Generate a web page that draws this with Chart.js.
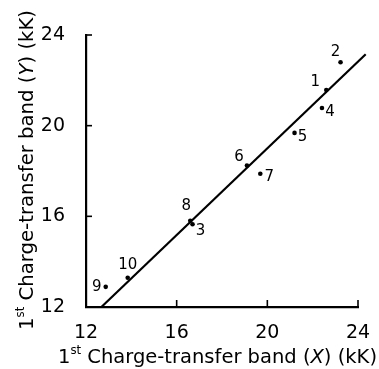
<!DOCTYPE html>
<html><head><meta charset="utf-8">
<script src="https://cdn.jsdelivr.net/npm/chart.js@4"></script>
<style>html,body{margin:0;padding:0;background:#fff}#wrap{width:379px;height:369px}</style>
</head><body><div id="wrap"><canvas id="c" width="379" height="369"></canvas></div>
<script>
// ---- data ----
const compoundLabels = ['1','2','3','4','5','6','7','8','9','10'];
const chargeTransferX = [22.6, 23.23, 16.7, 22.41, 21.2, 19.1, 19.69, 16.6, 12.87, 13.84];
const chargeTransferY = [21.57, 22.8, 15.65, 20.78, 19.68, 18.24, 17.88, 15.8, 12.89, 13.29];
const fitLineX = [12.68, 24.34];
const fitLineY = [12, 23.15];
const xTickValues = [12, 16, 20, 24];
const yTickValues = [12, 16, 20, 24];
const xTitleText = ['1', 'st', ' Charge-transfer band (', 'X', ') (kK)'];
const yTitleText = ['1', 'st', ' Charge-transfer band (', 'Y', ') (kK)'];

// ---- styling (not data) ----
const labelOffsets = [[-11,-8],[-5,-10],[8,7],[8,4],[8,4],[-8,-8],[9,3],[-4,-15],[-9,0],[0,-13]];
const FONT = '"DejaVu Sans", sans-serif';

const scatterPts = chargeTransferX.map((x, i) => ({x, y: chargeTransferY[i]}));
const linePts = fitLineX.map((x, i) => ({x, y: fitLineY[i]}));

function drawRich(ctx, parts, x0, y0, length, rotate) {
  const styles = [
    {size:20, rise:0, italic:false},
    {size:12, rise:9, italic:false},
    {size:20, rise:0, italic:false},
    {size:20, rise:0, italic:true},
    {size:20, rise:0, italic:false}
  ];
  let total = 0;
  const widths = parts.map((t, i) => {
    const s = styles[i];
    ctx.font = (s.italic ? 'italic ' : '') + s.size + 'px ' + FONT;
    const w = ctx.measureText(t).width;
    total += w;
    return w;
  });
  ctx.save();
  ctx.translate(x0, y0);
  if (rotate) ctx.rotate(-Math.PI / 2);
  ctx.scale(length / total, 1);
  ctx.fillStyle = '#000';
  ctx.textBaseline = 'alphabetic';
  ctx.textAlign = 'left';
  let cx = 0;
  parts.forEach((t, i) => {
    const s = styles[i];
    ctx.font = (s.italic ? 'italic ' : '') + s.size + 'px ' + FONT;
    ctx.fillText(t, cx, -s.rise);
    cx += widths[i];
  });
  ctx.restore();
}

const decor = {
  id: 'decor',
  afterDraw(chart) {
    const ctx = chart.ctx;
    const xs = chart.scales.x, ys = chart.scales.y;
    const a = chart.chartArea;
    ctx.save();
    ctx.strokeStyle = '#000';
    ctx.lineWidth = 1.6;
    yTickValues.forEach(v => {
      if (v === ys.min) return;
      const py = ys.getPixelForValue(v);
      ctx.beginPath(); ctx.moveTo(a.left, py); ctx.lineTo(a.left + 6, py); ctx.stroke();
    });
    xTickValues.forEach(v => {
      if (v === xs.min) return;
      const px = xs.getPixelForValue(v);
      ctx.beginPath(); ctx.moveTo(px, a.bottom); ctx.lineTo(px, a.bottom - 7); ctx.stroke();
    });
    // point labels
    ctx.fillStyle = '#000';
    ctx.font = '15px ' + FONT;
    ctx.textAlign = 'center';
    ctx.textBaseline = 'middle';
    compoundLabels.forEach((lab, i) => {
      const px = xs.getPixelForValue(chargeTransferX[i]);
      const py = ys.getPixelForValue(chargeTransferY[i]);
      ctx.fillText(lab, px + labelOffsets[i][0], py + labelOffsets[i][1]);
    });
    ctx.restore();
    drawRich(ctx, xTitleText, 58, 363, 319, false);
    drawRich(ctx, yTitleText, 33, 330, 320, true);
  }
};

new Chart(document.getElementById('c'), {
  type: 'scatter',
  data: {
    datasets: [
      {
        label: 'fit',
        data: linePts,
        showLine: true,
        borderColor: '#000',
        borderWidth: 2.2,
        pointRadius: 0,
        clip: false,
        order: 2
      },
      {
        label: 'compounds',
        data: scatterPts,
        pointRadius: 2.3,
        pointBackgroundColor: '#000',
        pointBorderWidth: 0,
        order: 1
      }
    ]
  },
  options: {
    responsive: false,
    animation: false,
    devicePixelRatio: 1,
    layout: {padding: {left: 0, top: 35, right: 21, bottom: 0}},
    plugins: {legend: {display: false}, tooltip: {enabled: false}},
    scales: {
      x: {
        type: 'linear', min: 12, max: 24,
        afterFit: s => { s.height = 62; },
        afterBuildTicks: s => { s.ticks = xTickValues.map(v => ({value: v})); },
        grid: {display: false},
        border: {display: true, color: '#000', width: 2.2},
        ticks: {color: '#000', padding: 7, font: {family: FONT, size: 19}, maxRotation: 0}
      },
      y: {
        type: 'linear', min: 12, max: 24,
        afterFit: s => { s.width = 86; },
        afterBuildTicks: s => { s.ticks = yTickValues.map(v => ({value: v})); },
        grid: {display: false},
        border: {display: true, color: '#000', width: 2.2},
        ticks: {color: '#000', padding: 13, font: {family: FONT, size: 19}}
      }
    }
  },
  plugins: [decor]
});
</script>
</body></html>
